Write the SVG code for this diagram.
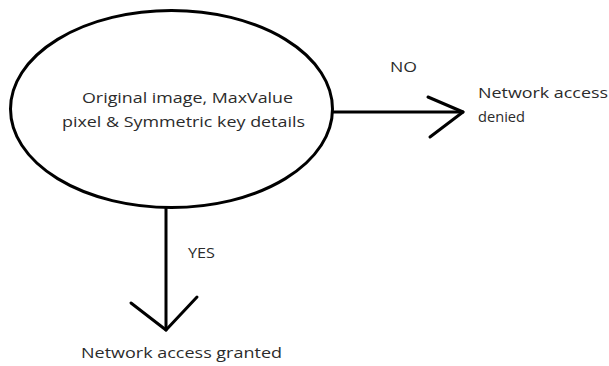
<svg xmlns="http://www.w3.org/2000/svg" width="609" height="366" viewBox="0 0 609 366">
  <style>
    .shape { fill: none; stroke: #000; stroke-width: 3; stroke-linecap: round; stroke-linejoin: round; }
    .label { font-family: "Open Sans", "Liberation Sans", sans-serif; font-size: 15px; fill: #2b2b2b; }
  </style>
  <rect width="609" height="366" fill="#fff"/>
  <g id="node-source">
    <ellipse class="shape" cx="171.5" cy="109" rx="161" ry="98.5"/>
    <text class="label" x="82" y="103" textLength="211" lengthAdjust="spacingAndGlyphs">Original image, MaxValue</text>
    <text class="label" x="62" y="127" textLength="243" lengthAdjust="spacingAndGlyphs">pixel &amp; Symmetric key details</text>
  </g>
  <g id="node-denied">
    <text class="label" x="478" y="98" textLength="130" lengthAdjust="spacingAndGlyphs">Network access</text>
    <text class="label" x="478" y="122" textLength="47" lengthAdjust="spacingAndGlyphs">denied</text>
  </g>
  <g id="node-granted">
    <text class="label" x="81" y="358" textLength="201" lengthAdjust="spacingAndGlyphs">Network access granted</text>
  </g>
  <g id="connectors">
    <line class="shape" x1="333" y1="112" x2="463" y2="112"/>
    <polyline class="shape" points="428,97 463,112 430,137"/>
    <text class="label" x="390" y="72" textLength="27" lengthAdjust="spacingAndGlyphs">NO</text>
    <line class="shape" x1="166" y1="208" x2="166" y2="330"/>
    <polyline class="shape" points="131,303 166,330 197,297"/>
    <text class="label" x="188" y="258" textLength="27" lengthAdjust="spacingAndGlyphs">YES</text>
  </g>
</svg>
